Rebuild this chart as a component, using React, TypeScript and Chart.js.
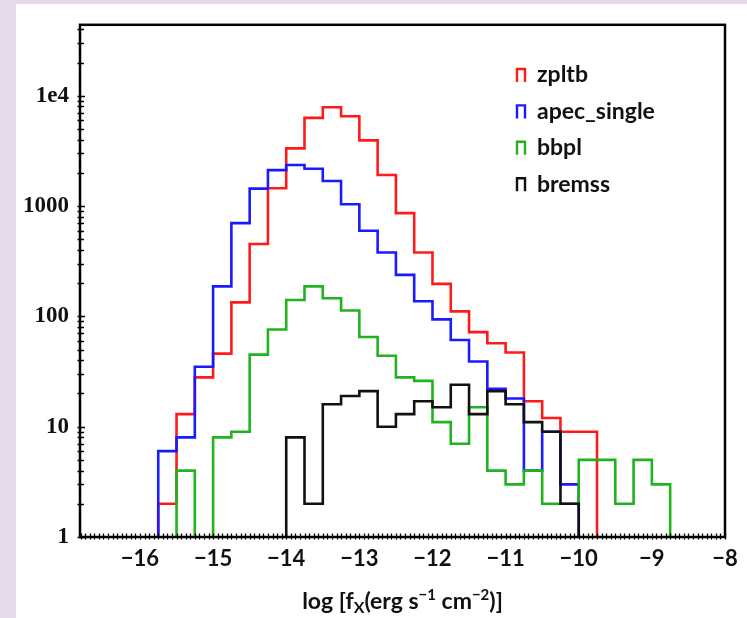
import React, { useEffect, useRef } from "react";
import { Chart, registerables } from "chart.js";

Chart.register(...registerables);

// ---- data ----
const binLeftEdges = [
  -15.75, -15.5, -15.25, -15.0, -14.75, -14.5, -14.25, -14.0, -13.75, -13.5,
  -13.25, -13.0, -12.75, -12.5, -12.25, -12.0, -11.75, -11.5, -11.25, -11.0,
  -10.75, -10.5, -10.25, -10.0, -9.75, -9.5, -9.25, -9.0,
];
const lastBinRightEdge = -8.75;

const zpltb = [2, 13, 28, 46, 134, 453, 1452, 3337, 6300, 7870, 6530, 3940, 1914, 863, 380, 197, 111, 72, 57, 47, 17, 12, 9, 9, 0, 0, 0, 0];
const apecSingle = [6, 8, 35, 187, 700, 1440, 2120, 2355, 2180, 1690, 1040, 597, 380, 238, 137, 94, 61, 39, 22, 18, 4, 9, 3, 0, 0, 0, 0, 0];
const bbpl = [0, 4, 0, 8, 9, 45, 76, 141, 187, 146, 113, 65, 44, 28, 26, 11, 7, 15, 4, 3, 4, 2, 2, 5, 5, 2, 5, 3];
const bremss = [0, 0, 0, 0, 0, 0, 0, 8, 2, 16, 19, 21, 10, 13, 17, 15, 24, 13, 21, 16, 11, 9, 2, 0, 0, 0, 0, 0];

const seriesNames = ["zpltb", "apec_single", "bbpl", "bremss"];
const seriesColors = ["#ff1a1a", "#1a1aff", "#1fb41f", "#111111"];

const xTickValues = [-16, -15, -14, -13, -12, -11, -10, -9, -8];
const xTickLabels = ["−16", "−15", "−14", "−13", "−12", "−11", "−10", "−9", "−8"];
const yTickValues = [1, 10, 100, 1000, 10000];
const yTickLabels = ["1", "10", "100", "1000", "1e4"];

const X_MIN = -16.82;
const X_MAX = -8;
const Y_MIN = 1;
const Y_MAX = 44000;
const ZERO_FLOOR = 0.3; // empty bins fall below the axis and are clipped

function toSteps(counts: number[]) {
  const pts = [{ x: binLeftEdges[0], y: ZERO_FLOOR }];
  binLeftEdges.forEach((x, i) => pts.push({ x, y: counts[i] > 0 ? counts[i] : ZERO_FLOOR }));
  pts.push({ x: lastBinRightEdge, y: ZERO_FLOOR });
  return pts;
}

const SANS = "Lato, 'Open Sans', sans-serif";
const SERIF = "'Liberation Serif', serif";

const decorPlugin = {
  id: "decor",
  afterDatasetsDraw(chart: any) {
    const { ctx, chartArea } = chart;
    const { left, right, top, bottom } = chartArea;
    const xs = chart.scales.x;
    const ys = chart.scales.y;
    ctx.save();
    ctx.strokeStyle = "#000";
    ctx.lineWidth = 1.3;
    ctx.beginPath();
    for (let v = -17; v <= -8 + 1e-9; v += 0.0625) {
      if (v < X_MIN) continue;
      const px = Math.round(xs.getPixelForValue(v)) + 0.5;
      ctx.moveTo(px, bottom - 3.5);
      ctx.lineTo(px, bottom + 2.5);
    }
    for (let d = 0; d <= 4; d++) {
      for (let m = 1; m <= 9; m++) {
        const v = m * Math.pow(10, d);
        if (v > Y_MAX) continue;
        const py = Math.round(ys.getPixelForValue(v)) + 0.5;
        ctx.moveTo(left - 2.5, py);
        ctx.lineTo(left + (m === 1 ? 5 : 4), py);
      }
    }
    ctx.stroke();
    ctx.lineWidth = 2.5;
    ctx.strokeRect(left, top, right - left, bottom - top);
    ctx.restore();
  },
  afterDraw(chart: any) {
    const { ctx, chartArea } = chart;
    ctx.save();
    // legend
    const lx = 517;
    const ly0 = 75;
    const dy = 36.4;
    ctx.font = `bold 23px ${SANS}`;
    ctx.textBaseline = "middle";
    ctx.textAlign = "left";
    seriesNames.forEach((name, i) => {
      const y = ly0 + i * dy;
      ctx.strokeStyle = seriesColors[i];
      ctx.lineWidth = 2.4;
      ctx.beginPath();
      ctx.moveTo(lx, y + 7);
      ctx.lineTo(lx, y - 6);
      ctx.lineTo(lx + 8, y - 6);
      ctx.lineTo(lx + 8, y + 7);
      ctx.stroke();
      ctx.fillStyle = "#111";
      ctx.fillText(name, lx + 20, y);
    });
    // axis title
    const parts: { t: string; size: number; dy: number }[] = [
      { t: "log [f", size: 23, dy: 0 },
      { t: "X", size: 16, dy: 4 },
      { t: "(erg s", size: 23, dy: 0 },
      { t: "−1", size: 15, dy: -9 },
      { t: " cm", size: 23, dy: 0 },
      { t: "−2", size: 15, dy: -9 },
      { t: ")]", size: 23, dy: 0 },
    ];
    let total = 0;
    const widths = parts.map((p) => {
      ctx.font = `bold ${p.size}px ${SANS}`;
      const w = ctx.measureText(p.t).width;
      total += w;
      return w;
    });
    let x = (chartArea.left + chartArea.right) / 2 - total / 2;
    const base = 609;
    ctx.textBaseline = "alphabetic";
    ctx.fillStyle = "#111";
    parts.forEach((p, i) => {
      ctx.font = `bold ${p.size}px ${SANS}`;
      ctx.fillText(p.t, x, base + p.dy);
      x += widths[i];
    });
    ctx.restore();
  },
};

export default function App() {
  const canvasRef = useRef<HTMLCanvasElement | null>(null);

  useEffect(() => {
    document.body.style.margin = "0";
    const canvas = canvasRef.current;
    if (!canvas) return;
    const allSeries = [zpltb, apecSingle, bbpl, bremss];
    const chart = new Chart(canvas, {
      type: "line",
      data: {
        datasets: allSeries.map((s, i) => ({
          label: seriesNames[i],
          data: toSteps(s),
          borderColor: seriesColors[i],
          backgroundColor: seriesColors[i],
          borderWidth: 2.6,
          pointRadius: 0,
          fill: false,
          stepped: "before" as const,
          tension: 0,
          order: allSeries.length - i,
        })),
      },
      options: {
        responsive: false,
        animation: false,
        events: [],
        layout: { padding: { top: 23, right: 22, left: 0, bottom: 0 } },
        plugins: { legend: { display: false }, tooltip: { enabled: false }, title: { display: false } },
        scales: {
          x: {
            type: "linear",
            min: X_MIN,
            max: X_MAX,
            afterBuildTicks: (s: any) => {
              s.ticks = xTickValues.map((v) => ({ value: v }));
            },
            afterFit: (s: any) => {
              s.height = 81;
            },
            ticks: {
              callback: (v: any) => {
                const i = xTickValues.indexOf(Number(v));
                return i >= 0 ? xTickLabels[i] : "";
              },
              autoSkip: false,
              maxRotation: 0,
              padding: 9,
              color: "#111",
              font: { family: SANS, size: 22, weight: "bold" },
            },
            grid: { display: false, drawTicks: false },
            border: { display: false },
          },
          y: {
            type: "logarithmic",
            min: Y_MIN,
            max: Y_MAX,
            afterBuildTicks: (s: any) => {
              s.ticks = yTickValues.map((v) => ({ value: v }));
            },
            afterFit: (s: any) => {
              s.width = 80;
            },
            ticks: {
              callback: (v: any) => {
                const i = yTickValues.indexOf(Number(v));
                return i >= 0 ? yTickLabels[i] : "";
              },
              autoSkip: false,
              padding: 11,
              color: "#111",
              font: { family: SERIF, size: 23, weight: "bold" },
            },
            grid: { display: false, drawTicks: false },
            border: { display: false },
          },
        },
      },
      plugins: [decorPlugin],
    } as any);
    return () => chart.destroy();
  }, []);

  return (
    <div style={{ position: "relative", width: 747, height: 618, background: "#e4dae9", overflow: "hidden" }}>
      <div style={{ position: "absolute", left: 16, top: 4, right: 0, bottom: 0, background: "#ffffff" }} />
      <canvas ref={canvasRef} width={747} height={618} style={{ position: "absolute", left: 0, top: 0 }} />
    </div>
  );
}
